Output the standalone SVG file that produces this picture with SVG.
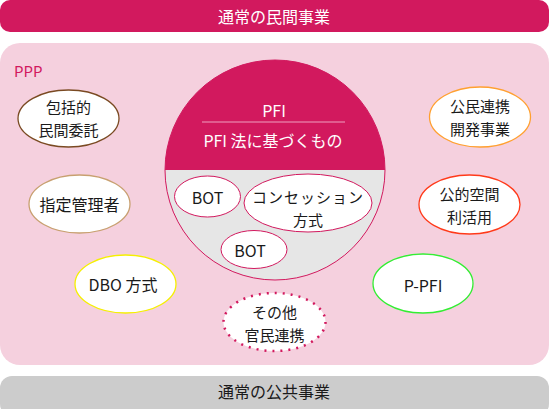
<svg xmlns="http://www.w3.org/2000/svg" width="549" height="409" viewBox="0 0 549 409">
<style>
text{font-family:"Noto Sans CJK JP","Noto Sans",sans-serif;font-size:16px;text-anchor:middle;dominant-baseline:central;fill:#1a1a1a}
.t2{font-size:15px}
.w{fill:#ffffff}
.node{fill:#ffffff;stroke-width:1.3}
.inner{fill:#ffffff;stroke:#d2195e;stroke-width:1}
</style>
<rect x="0" y="43" width="549" height="322" rx="20" fill="#f5d0de"/>
<g id="top-bar">
<rect x="0" y="0" width="549" height="32" rx="10" fill="#d2195e"/>
<text x="274" y="16" class="w">通常の民間事業</text>
</g>
<g id="bottom-bar">
<rect x="0" y="376" width="549" height="40" rx="12" fill="#cccccc"/>
<text x="274" y="391">通常の公共事業</text>
</g>
<text x="14" y="70" style="text-anchor:start;fill:#d2195e;font-size:15px">PPP</text>
<g id="pfi">
<circle cx="275" cy="170" r="110" fill="#e6e6e6" stroke="#d2195e" stroke-width="1"/>
<path d="M165,170 A110,110 0 0 1 385,170 Z" fill="#d2195e"/>
<line x1="202" y1="122" x2="345" y2="122" stroke="#eea0bf" stroke-width="1"/>
<text x="274" y="110" class="w">PFI</text>
<text x="273" y="140" class="w">PFI 法に基づくもの</text>
</g>
<g id="bot1">
<ellipse cx="207.5" cy="196.5" rx="33" ry="20.5" class="inner"/>
<text x="207.5" y="197">BOT</text>
</g>
<g id="concession">
<ellipse cx="308" cy="203" rx="64" ry="29" class="inner"/>
<text x="308" y="196" class="t2" style="letter-spacing:1px">コンセッション</text>
<text x="308" y="219" class="t2">方式</text>
</g>
<g id="bot2">
<ellipse cx="254" cy="249.5" rx="33" ry="19" class="inner"/>
<text x="250" y="250">BOT</text>
</g>
<g id="houkatsu">
<ellipse cx="68.5" cy="118.5" rx="50.5" ry="28.5" class="node" stroke="#7a4a22"/>
<text x="68.5" y="106" class="t2">包括的</text>
<text x="68.5" y="129" class="t2">民間委託</text>
</g>
<g id="shitei">
<ellipse cx="79.5" cy="204" rx="50.5" ry="29" class="node" stroke="#c8a070"/>
<text x="79.5" y="204">指定管理者</text>
</g>
<g id="dbo">
<ellipse cx="125.5" cy="284" rx="50.5" ry="29" class="node" stroke="#f5f000"/>
<text x="123" y="284">DBO 方式</text>
</g>
<g id="koumin">
<ellipse cx="480" cy="117" rx="50.5" ry="30" class="node" stroke="#ffa030"/>
<text x="480" y="105" class="t2">公民連携</text>
<text x="480" y="128" class="t2">開発事業</text>
</g>
<g id="kouteki">
<ellipse cx="469.5" cy="204.5" rx="50.5" ry="29.5" class="node" stroke="#ff3a1a"/>
<text x="469.5" y="193" class="t2">公的空間</text>
<text x="469.5" y="216" class="t2">利活用</text>
</g>
<g id="ppfi">
<ellipse cx="423" cy="283.5" rx="50" ry="29.5" class="node" stroke="#33ee33"/>
<text x="423" y="285">P-PFI</text>
</g>
<g id="sonota">
<ellipse cx="274.5" cy="322" rx="51" ry="29" fill="#ffffff" stroke="#d2195e" stroke-width="2.5" stroke-dasharray="2 6"/>
<text x="274.5" y="311" class="t2">その他</text>
<text x="274.5" y="334" class="t2">官民連携</text>
</g>
<g id="connectors"/>
</svg>
